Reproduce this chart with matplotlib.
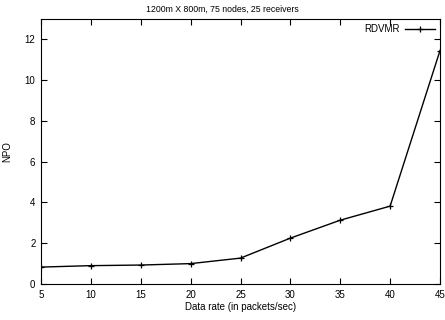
import matplotlib.pyplot as plt

plt.rcParams['font.family'] = ['Liberation Sans', 'DejaVu Sans']

# Data: data rate vs NPO
rates = [5, 10, 15, 20, 25, 30, 35, 40, 45]
npo = [0.83, 0.9, 0.93, 1.0, 1.27, 2.25, 3.13, 3.82, 11.45]

fig = plt.figure(figsize=(4.45, 3.2), dpi=100)
ax = fig.add_axes([41 / 445, 36 / 320, 399 / 445, 265 / 320])

ax.plot(rates, npo, color='black', linewidth=1, marker='+', markersize=4,
        markeredgewidth=0.9, label='RDVMR')

ax.set_xlim(5, 45)
ax.set_ylim(0, 13)
ax.set_xticks(rates)
ax.set_yticks([0, 2, 4, 6, 8, 10, 12])
ax.tick_params(direction='in', top=True, right=True, labelsize=7, length=4, pad=4)

ax.set_xlabel("Data rate (in packets/sec)", fontsize=7, labelpad=2)
ax.set_ylabel("NPO", fontsize=7)
ax.yaxis.set_label_coords(-29 / 399, 0.5)
fig.text(0.5, 0.985, "1200m X 800m, 75 nodes, 25 receivers", ha='center', va='top', fontsize=6.3)

ax.legend(loc='upper right', fontsize=7, frameon=False, markerfirst=False,
          handlelength=3.0, handletextpad=0.6, borderaxespad=0.15)

plt.savefig("out.png")
